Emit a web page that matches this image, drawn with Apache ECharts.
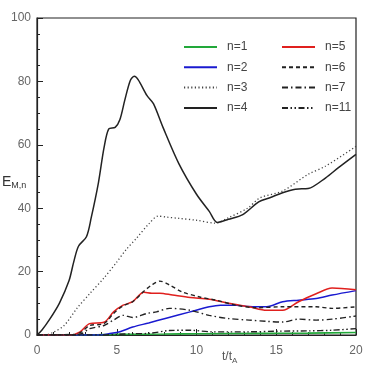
<!DOCTYPE html>
<html lang="en">
<head>
    <meta charset="UTF-8">
    <title>E_M,n vs t/tA</title>
    <script src="https://cdn.jsdelivr.net/npm/echarts@6.0.0/dist/echarts.min.js"></script>
    <style>
        html, body { margin: 0; padding: 0; background: #fff; }
    </style>
</head>
<body>
    <div id="echart" style="width: 374px; height: 374px;"></div>
<script>
    // [t/tA, E_M,n]
    const n1 = [[0,0],[3,0],[5,0.2],[8,0.3],[10,0.4],[14,0.5],[17,0.6],[20,0.8]];
    const n2 = [[0,0],[3.9,0],[4.5,0.4],[5.2,1],[6,2.5],[7,3.8],[8.1,5.3],[9.6,7.3],[10.8,8.9],[11.5,9.4],[12.5,9.4],[13.3,9],[14.4,8.9],[15.4,10.5],[16.4,11],[17.5,11.5],[18.5,12.6],[20,14]];
    const n3 = [[0,0],[0.5,0],[1,0.8],[1.7,3],[2.5,8.4],[3.3,13],[4.2,18],[5,23],[5.6,27],[6.25,30.6],[7,35],[7.6,37.5],[8.1,37.2],[8.9,36.8],[10,36.2],[11.2,35.3],[12,37],[13.2,40],[14,43.3],[15.4,45.4],[17,50.7],[18.1,53.3],[20,59.5]];
    const n4 = [[0,0],[0.3,1.5],[0.8,5],[1.4,10],[2,17],[2.3,23],[2.6,28],[3.1,31],[3.4,37],[3.85,48],[4.2,59],[4.5,65],[4.9,65.5],[5.2,68],[5.5,74],[5.85,80.3],[6.1,81.6],[6.35,80.5],[6.9,75.5],[7.3,73],[7.9,65.5],[8.9,54],[10,44.4],[10.8,39],[11.3,35.5],[12,36.5],[12.9,38],[13.9,42],[14.6,43.3],[15.4,44.9],[16.2,46],[17,46.2],[18.1,49.6],[18.9,52.8],[20,57]];
    const n5 = [[0,0],[2.1,0],[2.7,1],[3.3,3.6],[4.2,4],[4.8,7.3],[5.4,9.4],[6,10.5],[6.7,13.5],[7.2,13.2],[7.7,13.2],[8.5,12.6],[9.6,11.8],[10.8,11.3],[12,10],[13.3,8.9],[14.4,7.8],[15.4,7.8],[16.4,10.5],[17.5,13],[18.5,14.8],[20,14.3]];
    const n6 = [[0,0],[2.2,0],[2.8,1],[3.3,3],[4.2,3.6],[4.8,6.8],[5.4,9.2],[6,10.5],[6.7,13.8],[7.2,15.8],[7.7,17],[8.3,15.8],[9.1,13.6],[10.2,12],[11.2,11],[12.5,9.4],[13.7,8.6],[15.4,8.9],[17.5,8.9],[18.5,8.4],[20,8.9]];
    const n7 = [[0,0],[2.7,0.3],[3.3,2],[4.2,3],[4.8,4.7],[5.4,6.2],[6,5.5],[6.9,6.8],[7.5,7.3],[8.3,8.4],[9.6,7.8],[10.8,6.2],[12,5.2],[13.3,4.7],[14.4,4.3],[15.4,4.1],[16.4,5],[17.5,4.7],[18.5,5],[20,6]];
    const n11 = [[0,0],[4,0],[5,0.2],[6,0.4],[7,0.5],[8.3,1.4],[9.6,1.5],[11,1],[13.3,1],[15,1.2],[17,1.3],[18.5,1.5],[20,2]];

    const black = '#222';
    const lblFont = { fontFamily: 'Liberation Sans, Arial, sans-serif', fontSize: 12, color: '#666' };

    function mkLine(name, data, color, type, width) {
        return {
            name: name,
            type: 'line',
            data: data,
            symbol: 'none',
            smooth: 0.3,
            lineStyle: { color: color, width: width || 1.4, type: type || 'solid' },
            itemStyle: { color: color },
            emphasis: { disabled: true },
            z: 3
        };
    }

    // one axis per side only; the top and right edges come from the grid border
    function ax(pos, min, max, interval, minorSplit) {
        return {
            type: 'value',
            position: pos,
            min: min,
            max: max,
            interval: interval,
            axisLine: { show: true, onZero: false, lineStyle: { color: black, width: 1.2 } },
            axisTick: { show: true, inside: true, length: 6 },
            minorTick: { show: true, splitNumber: minorSplit, length: 3 },
            axisLabel: { show: true, margin: pos === 'bottom' ? 10 : 6, ...lblFont },
            splitLine: { show: false }
        };
    }

    const legendCommon = {
        orient: 'vertical',
        top: 36,
        itemWidth: 33,
        itemHeight: 14,
        itemGap: 8.3,
        itemStyle: { opacity: 0 },
        textStyle: { fontFamily: 'Liberation Sans, Arial, sans-serif', fontSize: 12, color: '#444', padding: [0, 0, 0, 5] }
    };

    const myChart = echarts.init(document.getElementById('echart'));
    myChart.setOption({
        animation: false,
        grid: {
            left: 37, right: 18, top: 18, bottom: 39,
            show: true, borderColor: black, borderWidth: 1.2, backgroundColor: 'transparent'
        },
        xAxis: ax('bottom', 0, 20, 5, 5),
        yAxis: ax('left', 0, 100, 20, 4),
        legend: [
            { ...legendCommon, left: 178, data: ['n=1', 'n=2', 'n=3', 'n=4'] },
            { ...legendCommon, left: 276, data: ['n=5', 'n=6', 'n=7', 'n=11'] }
        ],
        graphic: [
            {
                type: 'text', left: 2, top: 175,
                style: {
                    text: '{a|E}{b|M,n}',
                    rich: {
                        a: { fontFamily: 'Liberation Sans, Arial, sans-serif', fontSize: 14, fill: '#333' },
                        b: { fontFamily: 'Liberation Sans, Arial, sans-serif', fontSize: 9, fill: '#333', padding: [8, 0, 0, 0] }
                    }
                }
            },
            {
                type: 'text', left: 222, top: 351,
                style: {
                    text: '{a|t/t}{b|A}',
                    rich: {
                        a: { fontFamily: 'Liberation Sans, Arial, sans-serif', fontSize: 12, fill: '#555' },
                        b: { fontFamily: 'Liberation Sans, Arial, sans-serif', fontSize: 8, fill: '#555', padding: [8, 0, 0, 0] }
                    }
                }
            }
        ],
        series: [
            mkLine('n=1', n1, '#22a83a', 'solid', 1.6),
            mkLine('n=2', n2, '#1a1ad0', 'solid', 1.5),
            mkLine('n=3', n3, '#444', [1.2, 2.4], 1.3),
            mkLine('n=4', n4, black, 'solid', 1.5),
            mkLine('n=5', n5, '#e0201e', 'solid', 1.5),
            mkLine('n=6', n6, black, [4, 3], 1.4),
            mkLine('n=7', n7, black, [6, 3, 1.5, 3], 1.4),
            mkLine('n=11', n11, black, [6, 2.5, 1.5, 2.5, 1.5, 2.5], 1.4)
        ]
    });
</script>
</body>
</html>
